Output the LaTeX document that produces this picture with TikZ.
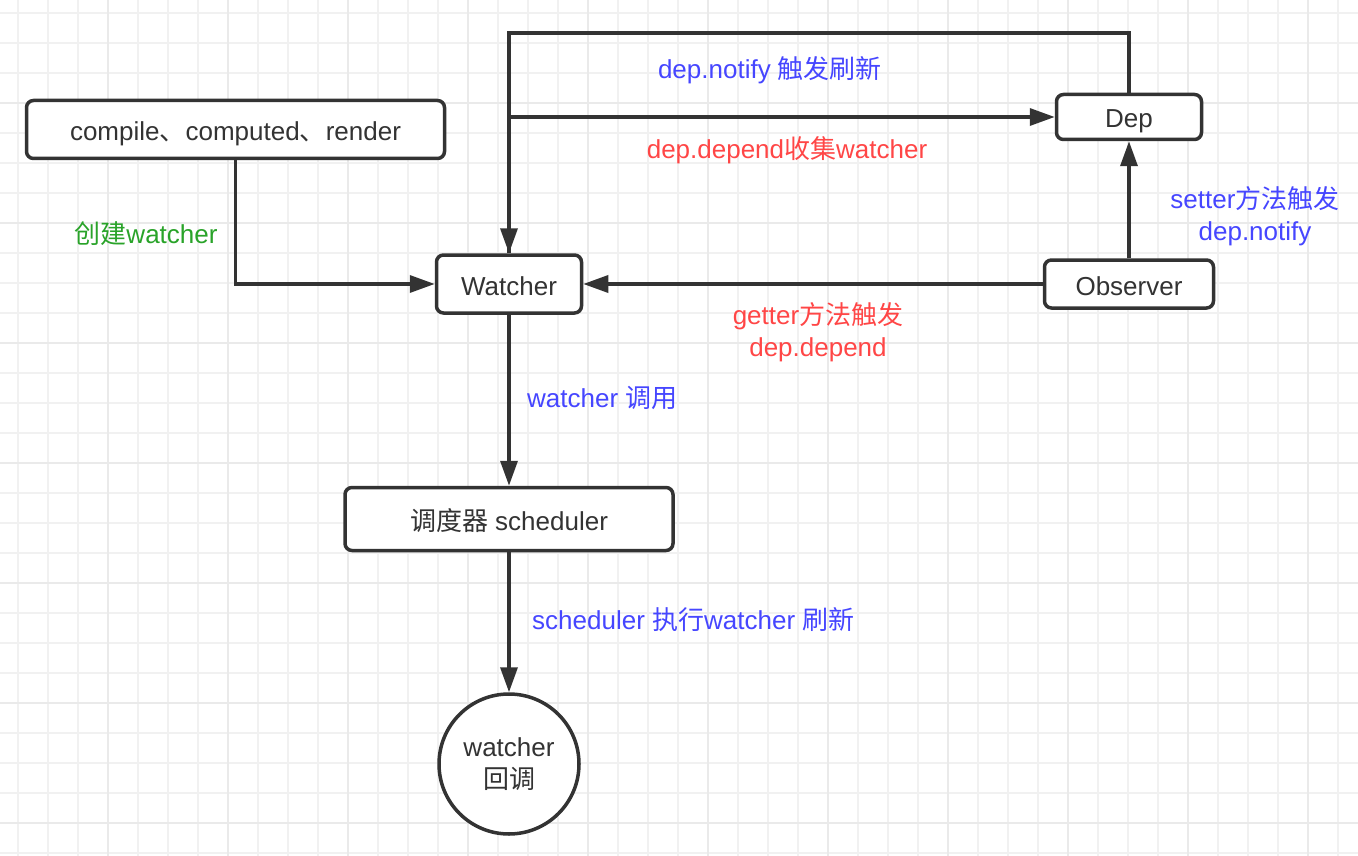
\documentclass[tikz,border=0pt]{standalone}
\usepackage{fontspec}
\setmainfont{Liberation Sans}
\newfontfamily\cjk{Noto Sans CJK SC}
\usetikzlibrary{arrows.meta}
\definecolor{ink}{HTML}{333333}
\definecolor{gridminor}{HTML}{F1F1F1}
\definecolor{gridmajor}{HTML}{EAEAEA}
\definecolor{lblue}{HTML}{4646FF}
\definecolor{lred}{HTML}{FF4646}
\definecolor{lgreen}{HTML}{29A329}
\tikzset{
  box/.style={draw=ink, line width=3.5pt, rounded corners=7pt, fill=white,
    text=ink, inner sep=0pt, text height=22pt, text depth=0pt},
  roundnode/.style={draw=ink, line width=3.5pt, circle, fill=white, text=ink,
    minimum size=140pt, inner sep=0pt, align=center},
  arr/.style={draw=ink, line width=3.5pt,
    -{Triangle[length=25pt,width=17pt]}},
  lbl/.style={inner sep=0pt, align=center},
}
\begin{document}
\begin{tikzpicture}[x=1pt,y=-1pt,font=\fontsize{26pt}{32pt}\selectfont]
\useasboundingbox (0,0) rectangle (1358,856);
\fill[white] (0,0) rectangle (1358,856);
% background grid
\begin{scope}
  \clip (0,0) rectangle (1358,856);
  \foreach \k in {0,...,44} {
    \pgfmathsetmacro{\gx}{18+30*\k}
    \draw[gridminor, line width=2pt] (\gx,0) -- (\gx,856);
  }
  \foreach \k in {0,...,28} {
    \pgfmathsetmacro{\gy}{12.7+30*\k}
    \draw[gridminor, line width=2pt] (0,\gy) -- (1358,\gy);
  }
  \foreach \k in {0,...,10} {
    \pgfmathsetmacro{\gx}{108+120*\k}
    \draw[gridmajor, line width=2pt] (\gx,0) -- (\gx,856);
  }
  \foreach \k in {0,...,6} {
    \pgfmathsetmacro{\gy}{102.7+120*\k}
    \draw[gridmajor, line width=2pt] (0,\gy) -- (1358,\gy);
  }
\end{scope}

% nodes
\node[box, minimum width=418pt, minimum height=58pt] (compile) at (235.5,129.5)
  {compile{\cjk 、}computed{\cjk 、}render};
\node[box, minimum width=145pt, minimum height=58pt] (watcher) at (509,284) {Watcher};
\node[box, minimum width=145pt, minimum height=45pt] (dep) at (1129,117) {Dep};
\node[box, minimum width=169pt, minimum height=48pt] (observer) at (1129,284) {Observer};
\node[box, minimum width=328pt, minimum height=63pt] (sched) at (509,519)
  {{\cjk 调度器} scheduler};
\node[roundnode] (cb) at (509,764) {watcher\\{\cjk 回调}};

% connectors
\coordinate (top) at (509,33);
\draw[arr] (compile.south) |- (watcher.west);
\draw[arr] (observer.west) -- (watcher.east);
\draw[arr] (observer.north) -- (dep.south);
\draw[arr] (dep.north) |- (top) -- (watcher.north);
\draw[arr] (watcher.north) |- (dep.west);
\draw[arr] (watcher.south) -- (sched.north);
\draw[arr] (sched.south) -- (cb.north);

% labels
\node[lbl, text=lgreen] (l1) at (146,234) {{\cjk 创建}watcher};
\node[lbl, text=lblue] (l2) at (770,70) {dep.notify {\cjk 触发刷新}};
\node[lbl, text=lred] (l3) at (787,150) {dep.depend{\cjk 收集}watcher};
\node[lbl, text=lblue] (l4) at (1255,216) {setter{\cjk 方法触发}\\dep.notify};
\node[lbl, text=lred] (l5) at (818,332) {getter{\cjk 方法触发}\\dep.depend};
\node[lbl, text=lblue, anchor=west] (l6) at (527,398) {watcher {\cjk 调用}};
\node[lbl, text=lblue, anchor=west] (l7) at (532,620) {scheduler {\cjk 执行}watcher {\cjk 刷新}};
\end{tikzpicture}
\end{document}
